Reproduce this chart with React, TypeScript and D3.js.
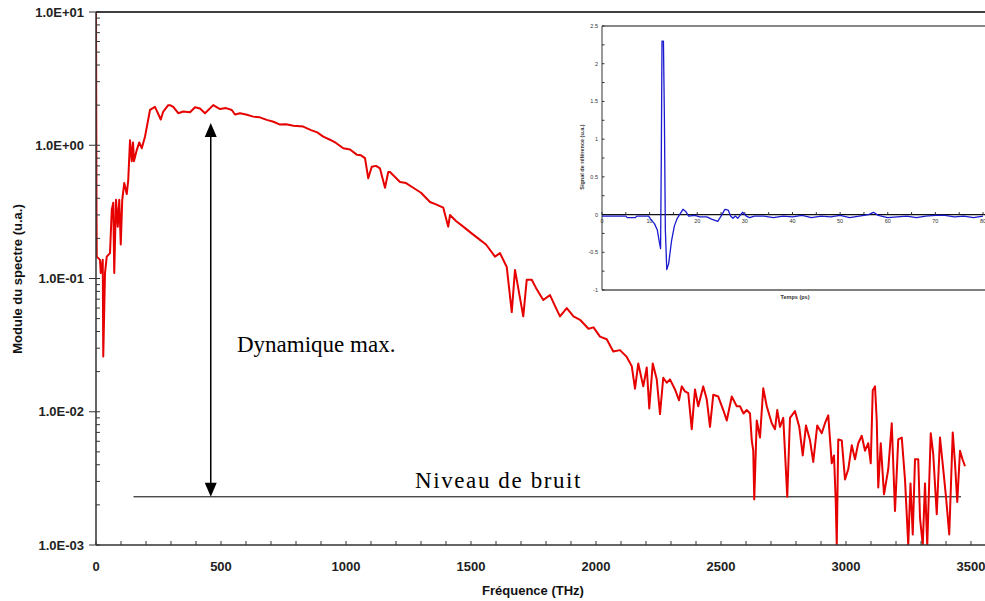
import React from "react";
import * as d3 from "d3";

// Main spectrum: frequency (THz) and module (u.a.)
const specFreq = [0, 2, 3, 16, 19, 27, 29, 36, 43, 56, 63, 69, 73, 80, 87, 93, 99, 105, 113, 123, 129, 136, 143, 148, 152, 163, 173, 183, 196, 216, 236, 259, 269, 289, 296, 309, 329, 349, 376, 396, 416, 436, 469, 496, 520, 543, 556, 576, 600, 629, 655, 683, 710, 736, 760, 790, 829, 860, 885, 909, 936, 960, 989, 1016, 1043, 1060, 1076, 1089, 1103, 1120, 1136, 1156, 1169, 1176, 1195, 1216, 1240, 1269, 1300, 1336, 1360, 1389, 1409, 1416, 1440, 1469, 1500, 1536, 1560, 1596, 1616, 1643, 1663, 1676, 1709, 1723, 1743, 1760, 1789, 1816, 1840, 1856, 1883, 1910, 1936, 1955, 1970, 1990, 2016, 2043, 2069, 2096, 2123, 2143, 2156, 2169, 2189, 2203, 2213, 2227, 2243, 2256, 2269, 2283, 2296, 2316, 2332, 2343, 2356, 2369, 2383, 2396, 2409, 2429, 2443, 2456, 2469, 2489, 2509, 2523, 2543, 2563, 2576, 2590, 2603, 2616, 2623, 2629, 2633, 2643, 2656, 2669, 2683, 2703, 2716, 2725, 2736, 2749, 2765, 2776, 2796, 2813, 2827, 2840, 2856, 2869, 2885, 2903, 2916, 2929, 2943, 2952, 2959, 2963, 2969, 2983, 2996, 3009, 3023, 3036, 3049, 3063, 3076, 3089, 3099, 3107, 3116, 3123, 3129, 3139, 3152, 3169, 3183, 3196, 3209, 3223, 3236, 3249, 3258, 3267, 3276, 3289, 3296, 3307, 3316, 3325, 3339, 3349, 3363, 3376, 3389, 3400, 3413, 3427, 3436, 3445, 3456, 3466, 3476];
const specValue = [10, 0.32, 0.146, 0.138, 0.11, 0.138, 0.026, 0.11, 0.146, 0.155, 0.327, 0.37, 0.11, 0.39, 0.245, 0.39, 0.18, 0.39, 0.52, 0.43, 0.55, 1.09, 0.76, 1.05, 0.76, 0.92, 1.05, 0.95, 1.16, 1.84, 1.94, 1.56, 1.79, 2.0, 2.0, 1.94, 1.74, 1.79, 1.77, 1.93, 1.89, 1.74, 2.0, 1.87, 1.9, 1.84, 1.7, 1.74, 1.7, 1.64, 1.62, 1.55, 1.5, 1.43, 1.44, 1.4, 1.38, 1.3, 1.25, 1.16, 1.1, 1.04, 0.95, 0.93, 0.85, 0.84, 0.8, 0.565, 0.69, 0.7, 0.67, 0.48, 0.63, 0.63, 0.58, 0.53, 0.52, 0.48, 0.44, 0.375, 0.36, 0.34, 0.245, 0.3, 0.27, 0.245, 0.22, 0.195, 0.18, 0.146, 0.155, 0.122, 0.056, 0.116, 0.052, 0.098, 0.098, 0.085, 0.069, 0.075, 0.06, 0.052, 0.06, 0.052, 0.049, 0.045, 0.042, 0.043, 0.0366, 0.035, 0.0283, 0.029, 0.0258, 0.022, 0.0149, 0.023, 0.0155, 0.0215, 0.0106, 0.023, 0.0175, 0.0096, 0.018, 0.0165, 0.0175, 0.0147, 0.0122, 0.0155, 0.0142, 0.0138, 0.0074, 0.0147, 0.011, 0.0155, 0.0124, 0.0077, 0.0134, 0.013, 0.0103, 0.0086, 0.013, 0.011, 0.011, 0.0097, 0.0103, 0.0097, 0.0061, 0.0051, 0.0022, 0.0086, 0.0064, 0.015, 0.011, 0.0082, 0.0074, 0.0103, 0.0077, 0.009, 0.0023, 0.009, 0.0101, 0.0077, 0.0047, 0.0079, 0.0061, 0.0042, 0.0079, 0.0069, 0.0082, 0.0094, 0.0041, 0.0047, 0.0021, 0.001, 0.0062, 0.0061, 0.0031, 0.0037, 0.0056, 0.0044, 0.0058, 0.0066, 0.0051, 0.0058, 0.0041, 0.0145, 0.0155, 0.0086, 0.0027, 0.0058, 0.0024, 0.0037, 0.0082, 0.0018, 0.0062, 0.0064, 0.0031, 0.001, 0.0029, 0.0012, 0.0044, 0.0044, 0.0016, 0.001, 0.0029, 0.001, 0.0069, 0.0048, 0.0017, 0.0064, 0.0037, 0.0023, 0.0012, 0.007, 0.0041, 0.0021, 0.0051, 0.0044, 0.0039];

// Inset: reference signal vs time (ps)
const insetTime = [0, 5, 5.3, 7, 7.3, 9.8, 10.2, 11, 11.6, 12.0, 12.3, 12.45, 12.6, 12.9, 13.1, 13.3, 13.6, 14, 14.6, 15.2, 15.8, 16.3, 17, 17.6, 18.2, 19.5, 20.5, 22, 23, 24.3, 25.2, 25.8, 26.5, 27, 27.5, 28, 28.5, 29.5, 30.3, 31, 32, 34, 36, 38, 40, 42, 44, 46, 48, 50, 52, 54, 56, 57, 58, 60, 62, 64, 66, 68, 70, 72, 74, 76, 78, 80];
const insetSignal = [-0.02, -0.02, -0.04, -0.04, -0.02, -0.02, -0.06, -0.12, -0.2, -0.35, -0.45, 0.75, 2.3, 2.3, 1.3, -0.2, -0.73, -0.65, -0.35, -0.15, -0.05, 0.0, 0.07, 0.04, -0.02, -0.01, -0.03, -0.03, -0.06, -0.09, 0.0, 0.07, 0.06, -0.02, -0.05, -0.02, -0.05, 0.03, -0.02, -0.04, -0.02, -0.02, -0.04, -0.02, -0.03, -0.01, -0.04, -0.02, -0.03, -0.01, -0.04, -0.02, 0.0, 0.03, -0.01, -0.04, -0.03, -0.02, -0.04, -0.02, -0.01, -0.01, -0.03, -0.02, -0.04, -0.02];

const xTicks = [0, 500, 1000, 1500, 2000, 2500, 3000, 3500];
const yTicks = [1e1, 1e0, 1e-1, 1e-2, 1e-3];
const yTickLabels = ["1.0E+01", "1.0E+00", "1.0E-01", "1.0E-02", "1.0E-03"];
const insetYTicks = [2.5, 2, 1.5, 1, 0.5, 0, -0.5, -1];
const insetXTicks = [0, 10, 20, 30, 40, 50, 60, 70, 80];

const noiseLevel = 2.3e-3;
const noiseFrom = 150;
const noiseTo = 3460;
const arrowFreq = 459;
const arrowTop = 1.47;

export default function App() {
  const W = 985, H = 601;
  const x = d3.scaleLinear().domain([0, 3500]).range([96, 971]);
  const y = d3.scaleLog().domain([1e-3, 10]).range([545, 12]);
  const plotRight = 985;

  const ix = d3.scaleLinear().domain([0, 80]).range([602, 983]);
  const iy = d3.scaleLinear().domain([-1, 2.5]).range([290, 26]);

  const specData = specFreq.map((f, i) => [f, specValue[i]] as [number, number]);
  const line = d3.line<[number, number]>().x(d => x(d[0])).y(d => y(d[1]));
  const insetData = insetTime.map((t, i) => [t, insetSignal[i]] as [number, number]);
  const iline = d3.line<[number, number]>().x(d => ix(d[0])).y(d => iy(d[1]));

  const minorX = d3.range(0, 3700, 100);
  const minorY: number[] = [];
  for (let e = -3; e < 1; e++) for (let m = 2; m <= 9; m++) minorY.push(m * Math.pow(10, e));
  const insetMinorY = d3.range(-1, 2.51, 0.25);
  const insetMinorX = d3.range(0, 81, 5);

  const ny = y(noiseLevel);
  const ax = x(arrowFreq);
  const ayTop = y(arrowTop);

  return (
    <svg width={W} height={H} style={{ position: "absolute", left: 0, top: 0, background: "#fff" }}>
      <defs>
        <clipPath id="plotClip">
          <rect x={96} y={12} width={plotRight - 96} height={533} />
        </clipPath>
      </defs>
      <rect x={0} y={0} width={W} height={H} fill="#fff" />
      {/* noise line */}
      <line x1={x(noiseFrom)} x2={x(noiseTo)} y1={ny} y2={ny} stroke="#000" strokeWidth={1} />
      {/* spectrum */}
      <path d={line(specData) || ""} fill="none" stroke="#e60000" strokeWidth={2} strokeLinejoin="round" clipPath="url(#plotClip)" />
      {/* axes */}
      <line x1={96} x2={plotRight} y1={12} y2={12} stroke="#000" strokeWidth={1.5} />
      <line x1={96} x2={plotRight} y1={545} y2={545} stroke="#333" strokeWidth={1.5} />
      <line x1={96} x2={96} y1={12} y2={545} stroke="#333" strokeWidth={1.5} />
      {minorX.map(v => (
        <line key={"mx" + v} x1={x(v)} x2={x(v)} y1={545} y2={541} stroke="#333" strokeWidth={1} />
      ))}
      {minorY.map(v => (
        <line key={"my" + v} x1={96} x2={100} y1={y(v)} y2={y(v)} stroke="#333" strokeWidth={1} />
      ))}
      {yTicks.map(v => (
        <line key={"My" + v} x1={89} x2={100} y1={y(v)} y2={y(v)} stroke="#333" strokeWidth={1} />
      ))}
      {xTicks.map(v => (
        <text key={"xt" + v} x={x(v)} y={571} textAnchor="middle" fontFamily="Liberation Sans, Arial, sans-serif" fontWeight="bold" fontSize={13} fill="#222">{v}</text>
      ))}
      {yTicks.map((v, i) => (
        <text key={"yt" + v} x={84} y={y(v) + 4.5} textAnchor="end" fontFamily="Liberation Sans, Arial, sans-serif" fontWeight="bold" fontSize={13} fill="#222">{yTickLabels[i]}</text>
      ))}
      <text x={533} y={595} textAnchor="middle" fontFamily="Liberation Sans, Arial, sans-serif" fontWeight="bold" fontSize={13} fill="#111">Fréquence (THz)</text>
      <text transform="translate(22,279) rotate(-90)" textAnchor="middle" fontFamily="Liberation Sans, Arial, sans-serif" fontWeight="bold" fontSize={13} fill="#111">Module du spectre (u.a.)</text>

      {/* arrow */}
      <line x1={ax} x2={ax} y1={ayTop + 12} y2={ny - 12} stroke="#000" strokeWidth={1.5} />
      <path d={`M${ax},${ayTop} L${ax - 6},${ayTop + 14} L${ax + 6},${ayTop + 14} Z`} fill="#000" />
      <path d={`M${ax},${ny} L${ax - 6},${ny - 14} L${ax + 6},${ny - 14} Z`} fill="#000" />
      <text x={237} y={352} fontFamily="Liberation Serif, Times New Roman, serif" fontSize={23} fill="#000">Dynamique max.</text>
      <text x={415} y={488} fontFamily="Liberation Serif, Times New Roman, serif" fontSize={23} letterSpacing={1.6} fill="#000">Niveau de bruit</text>

      {/* inset */}
      <rect x={602} y={26} width={plotRight - 602} height={264} fill="#fff" />
      <line x1={602} x2={plotRight} y1={26} y2={26} stroke="#111" strokeWidth={1.2} />
      <line x1={602} x2={plotRight} y1={290} y2={290} stroke="#555" strokeWidth={1.5} />
      <line x1={602} x2={602} y1={26} y2={290} stroke="#333" strokeWidth={1} />
      {insetMinorY.map(v => (
        <line key={"imy" + v} x1={602} x2={604.5} y1={iy(v)} y2={iy(v)} stroke="#333" strokeWidth={1} />
      ))}
      {insetYTicks.map(v => (
        <text key={"iyt" + v} x={598} y={iy(v) + 2} textAnchor="end" fontFamily="Liberation Sans, Arial, sans-serif" fontSize={5.5} fill="#333">{v}</text>
      ))}
      <line x1={602} x2={plotRight} y1={iy(0)} y2={iy(0)} stroke="#111" strokeWidth={1.2} />
      {insetMinorX.map(v => (
        <line key={"imx" + v} x1={ix(v)} x2={ix(v)} y1={iy(0)} y2={iy(0) - 2.5} stroke="#333" strokeWidth={1} />
      ))}
      {insetXTicks.map(v => (
        <text key={"ixt" + v} x={ix(v)} y={iy(0) + 8} textAnchor="middle" fontFamily="Liberation Sans, Arial, sans-serif" fontSize={5.5} fill="#333">{v}</text>
      ))}
      <path d={iline(insetData) || ""} fill="none" stroke="#1a1ad0" strokeWidth={1.3} strokeLinejoin="round" />
      <text x={795} y={299} textAnchor="middle" fontFamily="Liberation Sans, Arial, sans-serif" fontWeight="bold" fontSize={5.5} fill="#333">Temps (ps)</text>
      <text transform="translate(584,157) rotate(-90)" textAnchor="middle" fontFamily="Liberation Sans, Arial, sans-serif" fontWeight="bold" fontSize={5.5} fill="#333">Signal de référence (u.a.)</text>
    </svg>
  );
}
